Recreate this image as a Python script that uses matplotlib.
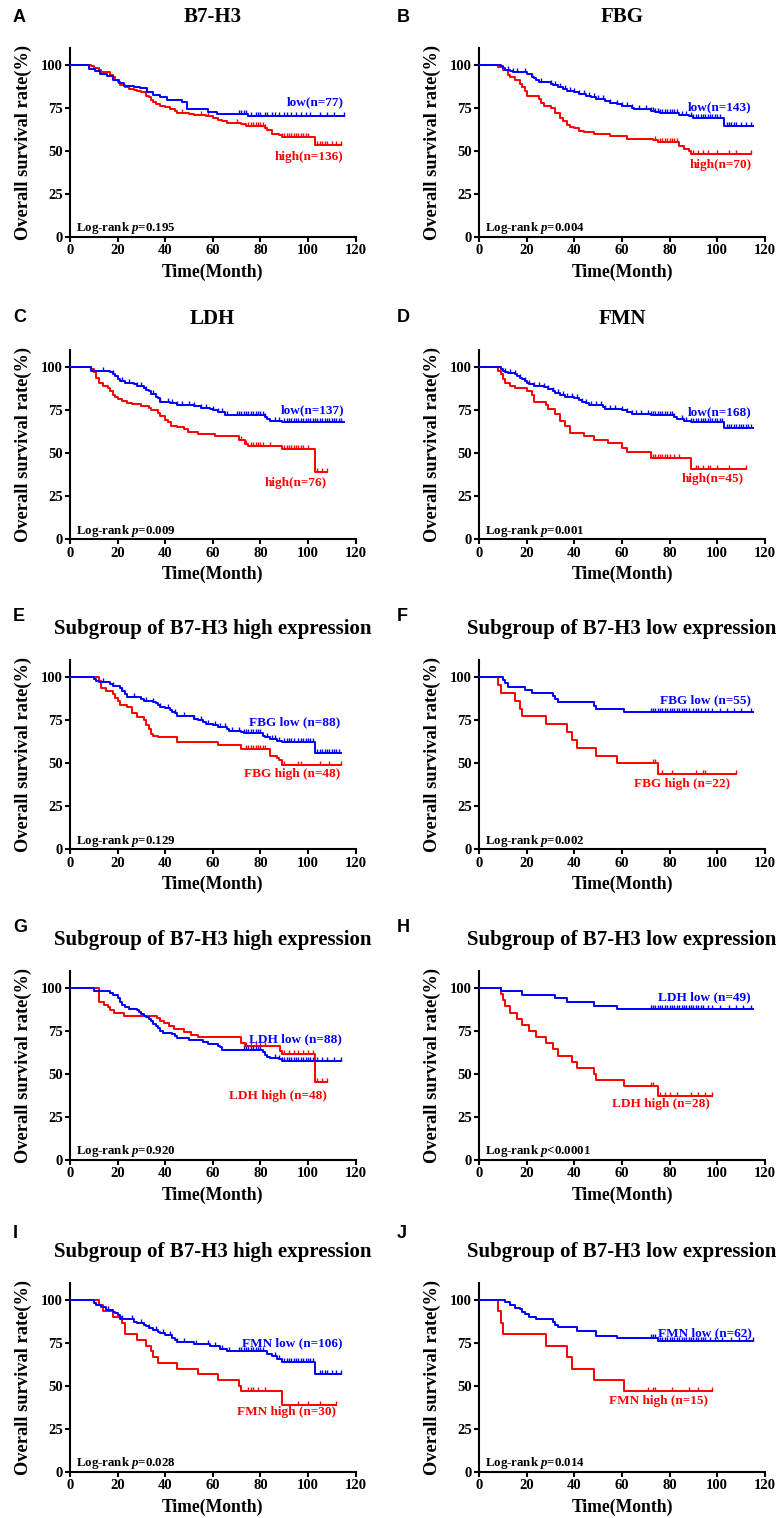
import numpy as np
import matplotlib.pyplot as plt

plt.rcParams['font.family'] = ['Liberation Serif', 'DejaVu Serif']
plt.rcParams['font.weight'] = 'bold'
plt.rcParams['mathtext.fontset'] = 'custom'
plt.rcParams['mathtext.it'] = 'Liberation Serif:bold:italic'
plt.rcParams['mathtext.rm'] = 'Liberation Serif:bold'

BLUE = '#0000ff'
RED = '#ff0000'

# ---------------- data (time in months, survival in %) ----------------
# A  B7-H3
a_low_t = [0, 8, 10.5, 12.6, 15.4, 18.2, 20.4, 22.5, 26.7, 29.5, 32.3, 35, 37.9, 40.7, 47, 49, 58, 61.8, 75]
a_low_s = [100, 97.5, 96.5, 94.8, 93.6, 91.3, 89.3, 87.8, 87.2, 86.4, 83.9, 82.1, 81, 79.6, 78.3, 74.2, 72.6, 71.3, 69.9]
a_low_end = 115
a_low_cens = [71, 72, 73, 74, 76, 78, 79, 80, 82, 83, 85, 86, 88, 90, 91, 93, 95, 97, 99, 101, 105, 108, 111, 115]
a_high_t = [0, 9, 10, 12, 13, 15, 17, 18, 19, 20, 21, 23, 25, 27, 28, 30, 32, 33, 34, 35, 36, 38, 40, 42, 44, 45,
            50, 52, 57, 60, 62, 64, 66, 72, 74, 82, 83, 85, 88, 89, 103]
a_high_s = [100, 99, 98, 97, 96, 95.5, 94, 93, 91, 90, 88, 87, 86, 85.5, 85, 84, 82, 81, 79.5, 78.5, 77, 76, 75.5,
            74.5, 73, 72, 71.5, 71, 70, 69, 68, 67, 66, 65.5, 64.5, 63, 62, 60, 59, 58, 53.5]
a_high_end = 114
a_high_cens = [47, 55, 58, 70, 75, 76, 77, 78, 79, 80, 81, 82, 89, 90, 91, 92, 93, 94, 95, 96, 97, 98, 99, 100,
               104, 105, 106, 107, 108, 110, 112, 114]

# B  FBG
b_low_t = [0, 9, 10, 11, 13, 14, 17, 20, 22, 23, 24, 25, 30, 31, 33, 35, 37, 40, 42, 45, 47, 49, 53, 55, 58, 60,
           64, 65, 72, 74, 76, 84, 86, 88, 90, 103]
b_low_s = [100, 99, 98, 97, 96.5, 96, 95.5, 94.5, 93, 92, 91, 90, 89, 88, 87, 86, 85, 84, 83, 82, 81, 80, 79, 78,
           77, 76, 75, 74, 73, 72.5, 72, 71, 70.5, 70, 69, 64.5]
b_low_end = 115
b_low_cens = [12, 14, 16, 19, 22, 26, 30, 32, 34, 36, 38, 40, 42, 44, 46, 48, 50, 52, 55, 58, 60, 62, 64, 67, 70,
              72, 73, 74, 75, 76, 77, 78, 79, 80, 81, 82, 83, 85, 87, 89, 90, 91, 92, 93, 94, 95, 96, 97, 98, 99,
              100, 101, 104, 105, 106, 107, 108, 110, 112, 114]
b_high_t = [0, 8, 10, 12, 13, 15, 17, 18, 19, 20, 25, 26, 27, 30, 32, 34, 35, 37, 38, 40, 42, 44, 48, 55, 62, 73,
            75, 84, 86, 88, 89]
b_high_s = [100, 98.5, 97, 94, 93, 91, 89, 87, 85, 82, 80, 78, 76, 75, 72, 69, 67, 65, 64, 63, 61.5, 61, 60, 58.5,
            57, 56, 55, 53, 51, 50, 48]
b_high_end = 114
b_high_cens = [74, 76, 77, 78, 79, 80, 81, 82, 83, 90, 92, 94, 96, 100, 105, 108, 114]

# C  LDH
c_low_t = [0, 9, 17, 18, 19, 20, 21, 23, 27, 28, 31, 32, 33, 34, 36, 37, 38, 42, 44, 45, 52, 55, 59, 60, 62, 65,
           82, 83, 84, 89]
c_low_s = [100, 98, 97, 96, 95, 93, 92, 91, 90, 89, 88, 87, 86, 84.5, 83, 82, 80, 79.5, 79, 78, 77.5, 76.5, 76,
           75, 74, 72, 71, 70, 69, 68]
c_low_end = 115
c_low_cens = [14, 18, 22, 25, 28, 30, 32, 35, 38, 41, 43, 45, 47, 50, 52, 55, 57, 60, 62, 64, 66, 70, 71, 72, 73,
              74, 75, 76, 77, 78, 79, 80, 81, 82, 86, 88, 90, 91, 92, 93, 94, 95, 96, 97, 98, 99, 100, 101, 102,
              103, 104, 105, 106, 107, 108, 109, 110, 111, 112, 113, 114]
c_high_t = [0, 9, 10, 11, 12, 14, 16, 17, 18, 19, 20, 22, 24, 26, 30, 33, 34, 37, 38, 40, 41, 42.5, 45, 48, 49.5,
            54, 61, 71, 73.5, 75, 89, 103]
c_high_s = [100, 99, 97, 94, 91, 89, 88, 86, 84, 83, 81.5, 80.5, 79.5, 78.5, 77.5, 76.3, 75.3, 73.4, 71.4, 69.5,
            68, 66, 65.5, 64, 62.5, 61.2, 60, 57.5, 55.5, 54.5, 52.4, 39]
c_high_end = 108
c_high_cens = [72, 74, 76, 77, 78, 79, 80, 81, 84, 90, 91, 92, 93, 94, 95, 96, 97, 98, 100, 104, 106, 108]

# D  FMN
d_low_t = [0, 9, 10, 11, 12, 15, 16, 17, 18, 19, 20, 21, 23, 27, 29, 31, 32, 34, 36, 38, 40, 42, 43, 45, 46, 52,
           53, 60, 62, 64, 72, 73, 82, 83, 86, 89, 103]
d_low_s = [100, 99, 98, 97, 96.5, 96, 95, 94, 93, 92, 91, 90, 89, 88.5, 87.5, 86, 85, 84, 83, 82.5, 82, 81, 80,
           79, 78, 77, 76, 75, 74, 73, 72.5, 72, 71, 70, 69, 68, 64.5]
d_low_end = 115
d_low_cens = [11, 13, 15, 17, 19, 21, 23, 25, 27, 29, 31, 33, 35, 37, 39, 41, 43, 45, 47, 49, 51, 53, 55, 57, 60,
              62, 64, 66, 68, 71, 72, 73, 74, 75, 76, 77, 78, 79, 80, 81, 82, 85, 87, 89, 90, 91, 92, 93, 94, 95,
              96, 97, 98, 99, 100, 101, 102, 104, 105, 106, 107, 108, 109, 110, 111, 112, 113, 114]
d_high_t = [0, 8, 9, 10, 11, 13, 15, 20, 22, 23, 28, 29, 32, 34, 36, 38, 44, 48, 54, 60, 62, 72, 89]
d_high_s = [100, 98, 96, 93, 91, 89, 88, 86, 84, 80, 78, 76, 73, 69, 66, 62, 60, 58, 56, 53, 51, 47, 41]
d_high_end = 112
d_high_cens = [73, 74, 75, 76, 77, 78, 79, 80, 82, 84, 91, 92, 94, 96, 97, 100, 105, 112]

# E  B7-H3 high subgroup, FBG
e_low_t = [0, 10, 11, 12, 17, 18, 21, 22, 23, 24, 30, 31, 35, 36, 37, 38, 40, 42, 43, 44, 45, 52, 54, 56, 57, 60,
           62, 66, 67, 72, 73, 81, 82, 84, 87, 89, 103]
e_low_s = [100, 99, 98, 97, 96, 95, 94, 92, 90, 88.5, 87.5, 86, 85.5, 85, 84, 83, 82, 81, 80, 79, 77.5, 76, 75,
           74, 73, 72, 71, 70, 69, 68, 67.5, 66, 65, 64, 63, 62.5, 56]
e_low_end = 114
e_low_cens = [14, 18, 22, 27, 32, 35, 38, 41, 44, 48, 52, 55, 58, 61, 63, 65, 68, 71, 73, 74, 75, 76, 77, 78, 79,
              80, 83, 85, 86, 88, 90, 91, 92, 93, 94, 96, 97, 98, 99, 100, 101, 102, 104, 105, 106, 107, 108, 109,
              110, 111, 112, 113]
e_high_t = [0, 12, 13, 15, 18, 19, 20, 21, 24, 26, 28, 31, 32, 33, 34, 35, 37, 45, 62, 72, 84, 87, 88, 89]
e_high_s = [100, 98, 94, 92, 90, 88, 86.5, 84, 83, 79, 77, 75, 72, 70, 67, 66, 65, 62.5, 60.5, 58.5, 54, 53, 52, 49]
e_high_end = 114
e_high_cens = [74, 75, 76, 77, 78, 79, 80, 81, 82, 89, 90, 96, 97, 105, 109, 114]

# F  B7-H3 low subgroup, FBG
f_low_t = [0, 10, 11, 12, 19, 22, 31, 32, 33, 48, 49, 61]
f_low_s = [100, 98.2, 96.4, 94.5, 92.7, 90.9, 89.1, 87.3, 85.5, 83.6, 81.8, 80]
f_low_end = 115
f_low_cens = [72, 73, 74, 75, 76, 77, 78, 79, 80, 81, 82, 83, 84, 85, 86, 87, 88, 90, 91, 92, 93, 95, 96, 98, 101,
              104, 107, 110, 114]
f_high_t = [0, 8, 9, 15, 17, 18, 28, 37, 39, 41, 49, 58, 75]
f_high_s = [100, 95.5, 90.9, 86.4, 81.8, 77.3, 72.7, 68.2, 63.6, 59.1, 54.5, 50, 43.8]
f_high_end = 108
f_high_cens = [73, 74, 77, 81, 91, 94, 95, 108]

# G  B7-H3 high subgroup, LDH
g_low_t = [0, 10, 17, 18, 20, 21, 22, 23, 25, 28, 29, 30, 31, 32, 33, 34, 35, 36, 37, 38, 39, 43, 44, 45, 50, 53,
           56, 58, 62, 63, 64, 81, 82, 83, 84, 88, 89]
g_low_s = [100, 98, 97, 96, 94, 92, 90, 89, 88, 87, 86, 85, 84, 83, 82, 81, 79, 78, 77, 75, 74, 73, 72, 71, 70,
           69.5, 68.5, 67.5, 66.5, 65.5, 64, 63, 61, 60, 59.5, 58.5, 57.5]
g_low_end = 114
g_low_cens = [73, 74, 75, 76, 77, 78, 79, 80, 86, 88, 89, 90, 91, 92, 93, 94, 95, 96, 97, 98, 99, 100, 101, 102,
              104, 106, 108, 111, 114]
g_high_t = [0, 12, 14.4, 15.8, 17, 18.6, 22.8, 36.6, 38, 39.4, 41.5, 43.9, 48, 51, 53.8, 72, 73.5, 88.3, 89, 103]
g_high_s = [100, 91.7, 90.3, 88.9, 87, 85.4, 83.9, 82.5, 81, 79.6, 77.7, 76.1, 74.7, 72.8, 71.4, 68, 66, 63.1,
            61.7, 45.6]
g_high_end = 108
g_high_cens = [74, 76, 78, 80, 82, 89, 90, 92, 94, 96, 98, 100, 102, 104, 106, 108]

# H  B7-H3 low subgroup, LDH
h_low_t = [0, 9, 18, 32, 37, 48, 58]
h_low_s = [100, 98, 96, 94, 92, 89.8, 87.8]
h_low_end = 115
h_low_cens = [72, 73, 74, 75, 76, 77, 78, 79, 80, 81, 82, 83, 84, 85, 86, 87, 88, 89, 90, 91, 92, 93, 94, 96, 98,
              101, 105, 108, 111, 114]
h_high_t = [0, 9, 10, 11, 13, 16, 18, 21, 24, 28, 31, 33, 39, 41, 48, 49, 61, 75]
h_high_s = [100, 96.4, 92.9, 89.3, 85.7, 82.1, 78.6, 75, 71.4, 67.9, 64.3, 60.7, 57.1, 53.6, 50, 46.4, 43, 37.5]
h_high_end = 98
h_high_cens = [72, 73, 76, 78, 80, 83, 89, 92, 95, 98]

# I  B7-H3 high subgroup, FMN
i_low_t = [0, 10, 11, 13, 15, 18, 19, 20, 21, 23, 27, 28, 31, 32, 33, 35, 37, 38, 40, 43, 44, 45, 52, 59, 63, 66,
           83, 85, 87, 89, 103]
i_low_s = [100, 98, 97, 96, 94, 93, 92, 91, 89, 88.5, 87, 86.5, 85.5, 84.5, 83.5, 82.5, 81.5, 80.5, 79.5, 78,
           76.5, 75.5, 74, 73, 71.5, 70, 68.5, 67, 65.5, 63.7, 57]
i_low_end = 114
i_low_cens = [16, 22, 26, 30, 33, 36, 39, 42, 45, 48, 53, 58, 61, 64, 67, 71, 72, 73, 74, 75, 76, 77, 78, 79, 80,
              81, 86, 88, 90, 91, 92, 93, 94, 95, 96, 97, 98, 99, 100, 101, 102, 105, 106, 107, 108, 110, 112, 114]
i_high_t = [0, 12, 14, 18, 22, 23, 28, 32, 34, 35, 37, 45, 54, 62, 71, 72, 89]
i_high_s = [100, 96.7, 93.3, 90, 86.7, 80, 76.7, 73.3, 70, 66.7, 63.3, 60, 56.7, 53.3, 50, 46.7, 39]
i_high_end = 112
i_high_cens = [75, 76, 77, 79, 82, 96, 100, 105, 112]

# J  B7-H3 low subgroup, FMN
j_low_t = [0, 11, 13, 15, 17, 18, 19, 21, 24, 31, 32, 33, 41, 49, 58, 75]
j_low_s = [100, 98.4, 96.8, 95.2, 94.5, 93, 91.5, 90, 88.5, 87, 85.5, 84, 82, 79, 77.5, 76]
j_low_end = 115
j_low_cens = [72, 73, 74, 75, 76, 77, 78, 79, 80, 81, 82, 83, 84, 85, 86, 87, 88, 89, 90, 91, 92, 93, 94, 95, 97,
              99, 102, 106, 109, 112, 115]
j_high_t = [0, 8, 9, 10, 28, 37, 39, 48, 61]
j_high_s = [100, 93.3, 86.7, 80, 73.3, 66.7, 60, 53.3, 46.7]
j_high_end = 98
j_high_cens = [71, 73, 74, 81, 88, 92, 98]

letters = ['A', 'B', 'C', 'D', 'E', 'F', 'G', 'H', 'I', 'J']
titles = ['B7-H3', 'FBG', 'LDH', 'FMN'] + ['Subgroup of B7-H3 high expression',
                                          'Subgroup of B7-H3 low expression'] * 3
low_labels = ['low(n=77)', 'low(n=143)', 'low(n=137)', 'low(n=168)', 'FBG low (n=88)', 'FBG low (n=55)',
              'LDH low (n=88)', 'LDH low (n=49)', 'FMN low (n=106)', 'FMN low (n=62)']
high_labels = ['high(n=136)', 'high(n=70)', 'high(n=76)', 'high(n=45)', 'FBG high (n=48)', 'FBG high (n=22)',
               'LDH high (n=48)', 'LDH high (n=28)', 'FMN high (n=30)', 'FMN high (n=15)']
p_texts = ['=0.195', '=0.004', '=0.009', '=0.001', '=0.129', '=0.002', '=0.920', '<0.0001', '=0.028', '=0.014']

lows = [(a_low_t, a_low_s, a_low_end, a_low_cens), (b_low_t, b_low_s, b_low_end, b_low_cens),
        (c_low_t, c_low_s, c_low_end, c_low_cens), (d_low_t, d_low_s, d_low_end, d_low_cens),
        (e_low_t, e_low_s, e_low_end, e_low_cens), (f_low_t, f_low_s, f_low_end, f_low_cens),
        (g_low_t, g_low_s, g_low_end, g_low_cens), (h_low_t, h_low_s, h_low_end, h_low_cens),
        (i_low_t, i_low_s, i_low_end, i_low_cens), (j_low_t, j_low_s, j_low_end, j_low_cens)]
highs = [(a_high_t, a_high_s, a_high_end, a_high_cens), (b_high_t, b_high_s, b_high_end, b_high_cens),
         (c_high_t, c_high_s, c_high_end, c_high_cens), (d_high_t, d_high_s, d_high_end, d_high_cens),
         (e_high_t, e_high_s, e_high_end, e_high_cens), (f_high_t, f_high_s, f_high_end, f_high_cens),
         (g_high_t, g_high_s, g_high_end, g_high_cens), (h_high_t, h_high_s, h_high_end, h_high_cens),
         (i_high_t, i_high_s, i_high_end, i_high_cens), (j_high_t, j_high_s, j_high_end, j_high_cens)]

# label anchor points (right edge, data coords)
low_pos = [(115, 78), (114.5, 75.5), (115.5, 75), (114.4, 73.8), (113.6, 73.8), (114.4, 86.6),
           (114.4, 70), (114, 94.4), (114.4, 74.6), (114.4, 80.5)]
high_pos = [(115, 46.6), (114.5, 41.7), (108, 33), (111, 34.9), (113.6, 43.6), (105.6, 38),
            (108, 37.3), (97, 32.4), (112, 34.7), (96.2, 41.1)]

# ---------------- layout (pixels) ----------------
W, H = 779, 1518
col_left = [70, 479.3]
ax_w = 285.5
row_zero = [236.7, 539.3, 849.3, 1160, 1471.7]
ax_h = 189.2
letter_x = [13, 397]
letter_y = [17, 317, 617, 927, 1233]


def km(ax, t, s, end, cens, color):
    tt = list(t) + [end]
    ss = list(s) + [s[-1]]
    ax.step(tt, ss, where='post', color=color, lw=1.4, clip_on=False, zorder=3)
    idx = np.searchsorted(t, cens, side='right') - 1
    cy = np.array(s)[idx]
    ax.plot(cens, cy, ls='none', marker=2, ms=3, mew=1.0, color=color, clip_on=False, zorder=3)


fig = plt.figure(figsize=(W / 100, H / 100), dpi=100)

for k in range(10):
    r, c = k // 2, k % 2
    ax = fig.add_axes([col_left[c] / W, 1 - row_zero[r] / H, ax_w / W, ax_h / H])
    lt, ls, le, lc = lows[k]
    ht, hs, he, hc = highs[k]
    km(ax, ht, hs, he, hc, RED)
    km(ax, lt, ls, le, lc, BLUE)

    ax.set_xlim(0, 120)
    ax.set_ylim(0, 110)
    ax.set_xticks(range(0, 121, 20))
    ax.set_yticks([0, 25, 50, 75, 100])
    for sp in ['top', 'right']:
        ax.spines[sp].set_visible(False)
    for sp in ['left', 'bottom']:
        ax.spines[sp].set_linewidth(1.5)
    ax.tick_params(direction='out', length=3.8, width=1.5, pad=1.5, labelsize=10.5)
    for lab in ax.get_xticklabels() + ax.get_yticklabels():
        lab.set_fontweight('bold')

    ax.set_ylabel('Overall survival rate(%)', fontsize=13.2, fontweight='bold')
    ax.yaxis.set_label_coords(-0.133, 0.5)
    ax.set_xlabel('Time(Month)', fontsize=12.7, fontweight='bold', va='top')
    ax.xaxis.set_label_coords(0.5, -0.14)

    ax.text(0.5, 1 + 31 / ax_h, titles[k], transform=ax.transAxes, ha='center', va='center',
            fontsize=15, fontweight='bold')
    ax.text(low_pos[k][0], low_pos[k][1], low_labels[k], color=BLUE, ha='right', va='center',
            fontsize=9.5, fontweight='bold', zorder=4)
    ax.text(high_pos[k][0], high_pos[k][1], high_labels[k], color=RED, ha='right', va='center',
            fontsize=9.5, fontweight='bold', zorder=4)
    ax.text(2.5, 5, 'Log-rank $p$' + p_texts[k], ha='left', va='center', fontsize=9.3, fontweight='bold')

    fig.text(letter_x[c] / W, 1 - letter_y[r] / H, letters[k], ha='left', va='center',
             fontsize=13, fontweight='bold', family=['Liberation Sans', 'DejaVu Sans'])

fig.savefig('out.png', dpi=100)
